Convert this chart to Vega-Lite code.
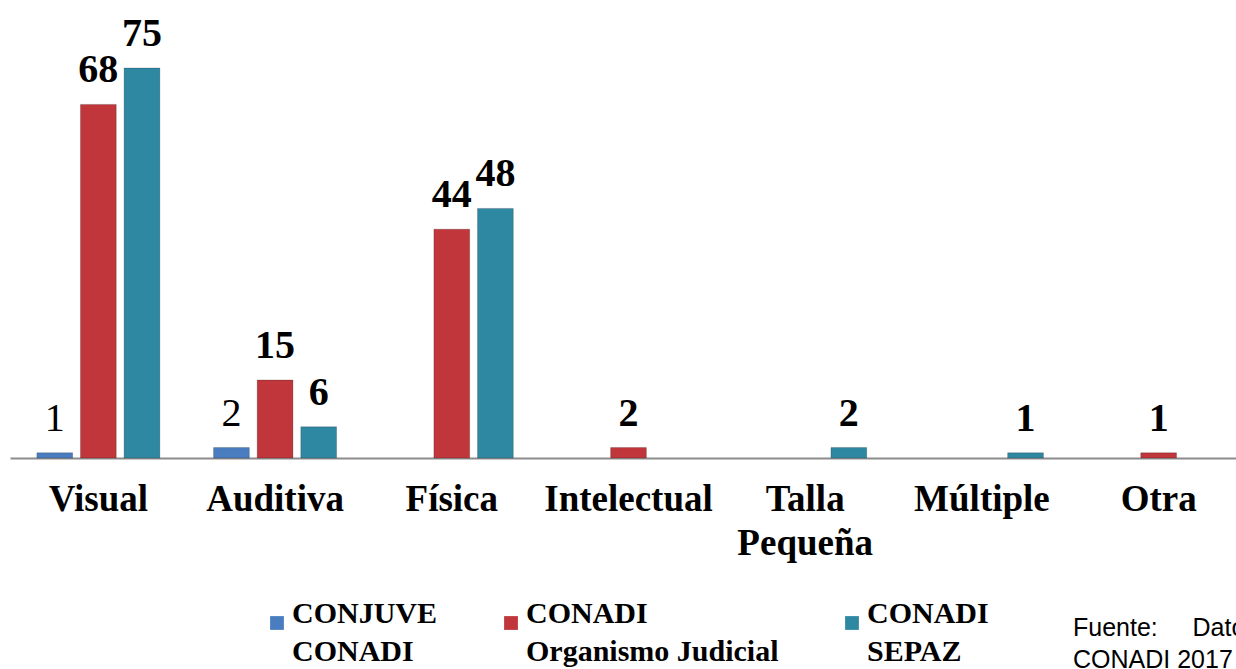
{
  "$schema": "https://vega.github.io/schema/vega-lite/v6.json",
  "width": 1226,
  "height": 390,
  "autosize": {"type": "none"},
  "padding": {"left": 10, "top": 68, "right": 0, "bottom": 211},
  "background": "white",
  "title": {
    "text": ["Fuente:\u00a0\u00a0\u00a0\u00a0\u00a0Datos de", "CONADI 2017"],
    "orient": "bottom",
    "anchor": "start",
    "align": "left",
    "dx": 1063,
    "dy": -55,
    "font": "Liberation Sans",
    "fontSize": 25,
    "fontWeight": "normal",
    "color": "#000000",
    "lineHeight": 32
  },
  "data": {
    "values": [
      {"tipo": "Visual", "serie": "CONJUVE CONADI", "valor": 1},
      {"tipo": "Visual", "serie": "CONADI Organismo Judicial", "valor": 68},
      {"tipo": "Visual", "serie": "CONADI SEPAZ", "valor": 75},
      {"tipo": "Auditiva", "serie": "CONJUVE CONADI", "valor": 2},
      {"tipo": "Auditiva", "serie": "CONADI Organismo Judicial", "valor": 15},
      {"tipo": "Auditiva", "serie": "CONADI SEPAZ", "valor": 6},
      {"tipo": "Física", "serie": "CONADI Organismo Judicial", "valor": 44},
      {"tipo": "Física", "serie": "CONADI SEPAZ", "valor": 48},
      {"tipo": "Intelectual", "serie": "CONADI Organismo Judicial", "valor": 2},
      {"tipo": "Talla Pequeña", "serie": "CONADI SEPAZ", "valor": 2},
      {"tipo": "Múltiple", "serie": "CONADI SEPAZ", "valor": 1},
      {"tipo": "Otra", "serie": "CONADI Organismo Judicial", "valor": 1}
    ]
  },
  "encoding": {
    "x": {
      "field": "tipo",
      "type": "nominal",
      "sort": ["Visual", "Auditiva", "Física", "Intelectual", "Talla Pequeña", "Múltiple", "Otra"],
      "scale": {"domain": ["Visual", "Auditiva", "Física", "Intelectual", "Talla Pequeña", "Múltiple", "Otra"], "range": [0, 1237], "paddingInner": 0.304, "paddingOuter": 0.152},
      "axis": {
        "title": null,
        "ticks": false,
        "labelAngle": 0,
        "labelPadding": 23,
        "labelFont": "Liberation Serif",
        "labelFontWeight": "bold",
        "labelFontSize": 37,
        "labelColor": "#000000",
        "labelLineHeight": 44,
        "labelExpr": "datum.label == 'Talla Pequeña' ? ['Talla', 'Pequeña'] : datum.label",
        "domainColor": "#8c8c8c",
        "domainWidth": 2,
        "grid": false
      }
    },
    "xOffset": {
      "field": "serie",
      "sort": ["CONJUVE CONADI", "CONADI Organismo Judicial", "CONADI SEPAZ"],
      "scale": {"domain": ["CONJUVE CONADI", "CONADI Organismo Judicial", "CONADI SEPAZ"], "paddingInner": 0.18, "paddingOuter": 0}
    },
    "y": {
      "field": "valor",
      "type": "quantitative",
      "scale": {"domain": [0, 75]},
      "axis": null
    }
  },
  "layer": [
    {
      "mark": {"type": "bar", "stroke": "#00000033", "strokeWidth": 1},
      "encoding": {
        "color": {
          "field": "serie",
          "type": "nominal",
          "sort": ["CONJUVE CONADI", "CONADI Organismo Judicial", "CONADI SEPAZ"],
          "scale": {"domain": ["CONJUVE CONADI", "CONADI Organismo Judicial", "CONADI SEPAZ"], "range": ["#4a7dc0", "#c0363a", "#2e88a2"]},
          "legend": {
            "title": null,
            "orient": "none",
            "legendX": 252,
            "legendY": 540,
            "direction": "horizontal",
            "symbolType": "square",
            "symbolSize": 190,
            "symbolStrokeWidth": 0,
            "labelFont": "Liberation Serif",
            "labelFontWeight": "bold",
            "labelFontSize": 30,
            "labelColor": "#000000",
            "labelBaseline": "alphabetic",
            "labelOffset": 0,
            "labelLimit": 400,
            "columnPadding": 58,
            "labelExpr": "[substring(datum.label, 0, indexof(datum.label, ' ')), substring(datum.label, indexof(datum.label, ' ') + 1)]"
          }
        }
      }
    },
    {
      "transform": [{"filter": "datum.serie == 'CONJUVE CONADI'"}],
      "mark": {"type": "text", "baseline": "bottom", "dy": -14, "font": "Liberation Serif", "fontSize": 40, "fontWeight": "normal", "color": "#000000"},
      "encoding": {"text": {"field": "valor", "type": "quantitative"}}
    },
    {
      "transform": [{"filter": "datum.serie != 'CONJUVE CONADI'"}],
      "mark": {"type": "text", "baseline": "bottom", "dy": -14, "font": "Liberation Serif", "fontSize": 40, "fontWeight": "bold", "color": "#000000"},
      "encoding": {"text": {"field": "valor", "type": "quantitative"}}
    }
  ],
  "config": {
    "view": {"stroke": null},
    "style": {"guide-label": {"lineHeight": 38}}
  }
}
